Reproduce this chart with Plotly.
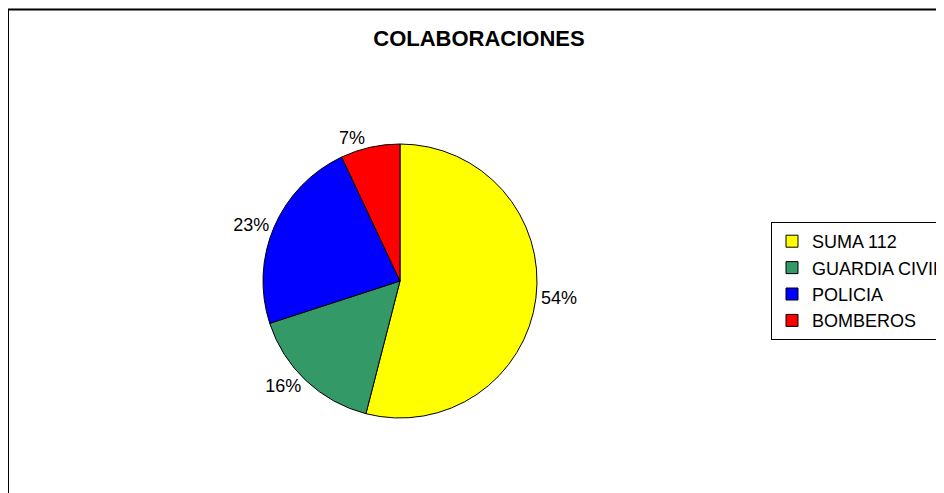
import plotly.graph_objects as go

categories = ['SUMA 112', 'GUARDIA CIVIL', 'POLICIA', 'BOMBEROS']
values = [54, 16, 23, 7]
colors = ['#FFFF00', '#339966', '#0000FF', '#FF0000']

# the page adds an 8px body margin, so the figure is drawn 8px in;
# the figure is a bit wider than the window so the legend box runs off the edge
OFF = 8
W, H = 960, 493 - OFF
cx, cy, r = 400 - OFF, 281 - OFF, 137
FONT = 'Liberation Sans, Arial'

fig = go.Figure()

fig.add_trace(go.Pie(
    labels=categories,
    values=values,
    sort=False,
    direction='clockwise',
    rotation=0,
    marker=dict(colors=colors, line=dict(color='black', width=1)),
    texttemplate='%{percent:.0%}',
    textposition='outside',
    outsidetextfont=dict(family=FONT, size=18, color='black'),
    domain=dict(x=[(cx - r) / W, (cx + r) / W],
                y=[1 - (cy + r) / H, 1 - (cy - r) / H]),
    showlegend=True,
))

fig.update_layout(
    width=W, height=H,
    margin=dict(l=0, r=0, t=0, b=0, autoexpand=False),
    paper_bgcolor='white',
    font=dict(family=FONT, color='black'),
    title=dict(text='<b>COLABORACIONES</b>', x=(479 - OFF) / W, xanchor='center',
               y=1 - (38 - OFF) / H, yanchor='middle',
               font=dict(size=22, family=FONT, color='black')),
    legend=dict(x=(771 - OFF) / W, xanchor='left', y=1 - (222 - OFF) / H, yanchor='top',
                bordercolor='black', borderwidth=1, bgcolor='white',
                font=dict(size=18, family=FONT, color='black')),
    shapes=[dict(type='rect', xref='paper', yref='paper',
                 x0=0, x1=1.1, y0=-0.1, y1=1 - 1.5 / H,
                 line=dict(color='black', width=2))],
)

fig.write_html('out.html')
